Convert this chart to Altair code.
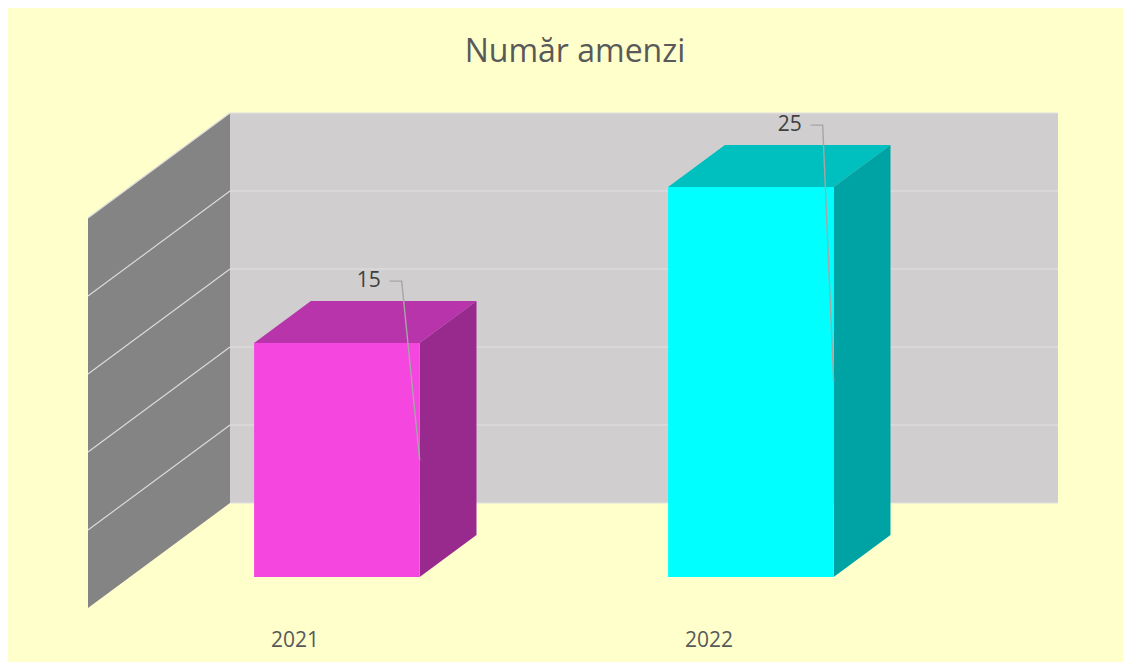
import altair as alt
import pandas as pd

# ---- data ----
categories = ["2021", "2022"]
values = [15, 25]
front_colors = ["#F546DF", "#00FFFF"]
top_colors = ["#B834AB", "#00BFBF"]
side_colors = ["#992A8D", "#00A3A3"]
grid_values = [0, 5, 10, 15, 20, 25]
label_dx_px = [-39, -32]          # manual placement of Excel data labels

TITLE = "Număr amenzi"
FONT = "Open Sans"

# ---- 3D geometry (oblique projection) ----
N = len(categories)
VMAX = 25
W, H = 970, 495
DX = 0.343          # floor depth in category units
DY = 6.73           # floor depth in value units
Z0, Z1 = 0.295, 0.695
HALF = 0.2
PXX = W / (N + DX)          # px per category unit
PXY = H / (VMAX + DY)       # px per value unit

xs = alt.Scale(domain=[0, N + DX], nice=False, zero=False)
ys = alt.Scale(domain=[0, VMAX + DY], nice=False, zero=False)


def X(f, **kw):
    return alt.X(f, type="quantitative", scale=xs, axis=None, **kw)


def Y(f, **kw):
    return alt.Y(f, type="quantitative", scale=ys, axis=None, **kw)


# back wall
back = pd.DataFrame([{"x": DX, "x2": N + DX, "y": DY, "y2": VMAX + DY}])
back_layer = alt.Chart(back).mark_rect(color="#D0CECE").encode(
    x=X("x"), x2="x2", y=Y("y"), y2="y2")

back_grid = pd.DataFrame([{"x": DX, "x2": N + DX, "y": DY + g} for g in grid_values])
back_grid_layer = alt.Chart(back_grid).mark_rule(color="#E2E0E0", strokeWidth=1).encode(
    x=X("x"), x2="x2", y=Y("y"))

# side wall
side = pd.DataFrame([
    {"x": 0, "y": 0, "y2": VMAX},
    {"x": DX, "y": DY, "y2": VMAX + DY},
])
side_layer = alt.Chart(side).mark_area(color="#858484", interpolate="linear").encode(
    x=X("x"), y=Y("y", stack=None), y2="y2")

side_grid = pd.DataFrame([{"x": 0, "x2": DX, "y": g, "y2": g + DY} for g in grid_values[1:]])
side_grid_layer = alt.Chart(side_grid).mark_rule(color="#DADADA", strokeWidth=1.2).encode(
    x=X("x"), x2="x2", y=Y("y"), y2="y2")

# bars
front_rows, side_rows, top_rows, label_rows, leader_rows, cat_rows = [], [], [], [], [], []
for i, (cat, v) in enumerate(zip(categories, values)):
    c = i + 0.5
    xl0, xr0 = c - HALF + Z0 * DX, c + HALF + Z0 * DX
    xl1, xr1 = c - HALF + Z1 * DX, c + HALF + Z1 * DX
    front_rows.append({"x": xl0, "x2": xr0, "y": Z0 * DY, "y2": v + Z0 * DY, "fill": front_colors[i]})
    side_rows += [
        {"face": cat, "x": xr0, "y": Z0 * DY, "y2": v + Z0 * DY, "fill": side_colors[i]},
        {"face": cat, "x": xr1, "y": Z1 * DY, "y2": v + Z1 * DY, "fill": side_colors[i]},
    ]
    top_rows += [
        {"face": cat, "y": v + Z0 * DY, "x": xl0, "x2": xr0, "fill": top_colors[i]},
        {"face": cat, "y": v + Z1 * DY, "x": xl1, "x2": xr1, "fill": top_colors[i]},
    ]
    lx = xr0 + label_dx_px[i] / PXX
    ly = v + Z0 * DY + 3.97
    label_rows.append({"x": lx, "y": ly, "text": str(v)})
    leader_rows += [
        {"id": cat, "o": 0, "x": lx + 9 / PXX, "y": ly},
        {"id": cat, "o": 1, "x": lx + 21 / PXX, "y": ly},
        {"id": cat, "o": 2, "x": xr0, "y": v / 2 + Z0 * DY},
    ]
    cat_rows.append({"x": c, "y": -32.5 / PXY, "text": cat})

front_layer = alt.Chart(pd.DataFrame(front_rows)).mark_rect().encode(
    x=X("x"), x2="x2", y=Y("y"), y2="y2", color=alt.Color("fill:N", scale=None))

side_face_layer = alt.Chart(pd.DataFrame(side_rows)).mark_area(interpolate="linear").encode(
    x=X("x"), y=Y("y", stack=None), y2="y2",
    color=alt.Color("fill:N", scale=None), detail="face:N")

top_face_layer = alt.Chart(pd.DataFrame(top_rows)).mark_area(
    orient="horizontal", interpolate="linear").encode(
    y=Y("y"), x=X("x", stack=None), x2="x2",
    color=alt.Color("fill:N", scale=None), detail="face:N")

leader_layer = alt.Chart(pd.DataFrame(leader_rows)).mark_line(
    color="#A6A6A6", strokeWidth=1.4).encode(
    x=X("x"), y=Y("y"), detail="id:N", order="o:Q")

label_layer = alt.Chart(pd.DataFrame(label_rows)).mark_text(
    align="right", baseline="middle", font=FONT, fontSize=21, color="#404040").encode(
    x=X("x"), y=Y("y"), text="text:N")

cat_layer = alt.Chart(pd.DataFrame(cat_rows)).mark_text(
    align="center", baseline="middle", font=FONT, fontSize=21, color="#595959").encode(
    x=X("x"), y=Y("y"), text="text:N")

chart = alt.layer(
    back_layer, back_grid_layer, side_layer, side_grid_layer,
    top_face_layer, side_face_layer, front_layer,
    leader_layer, label_layer, cat_layer,
).properties(
    width=W, height=H,
    title=alt.TitleParams(TITLE, font=FONT, fontSize=32, fontWeight="normal",
                          color="#595959", anchor="middle", frame="group",
                          offset=43, dx=2),
    background="#FFFFCC",
    padding={"left": 80, "top": 105, "right": 65, "bottom": 54},
    autosize=alt.AutoSizeParams(type="none"),
).configure_view(stroke=None)

chart.save("out.html", embed_options={"renderer": "svg", "actions": False})
